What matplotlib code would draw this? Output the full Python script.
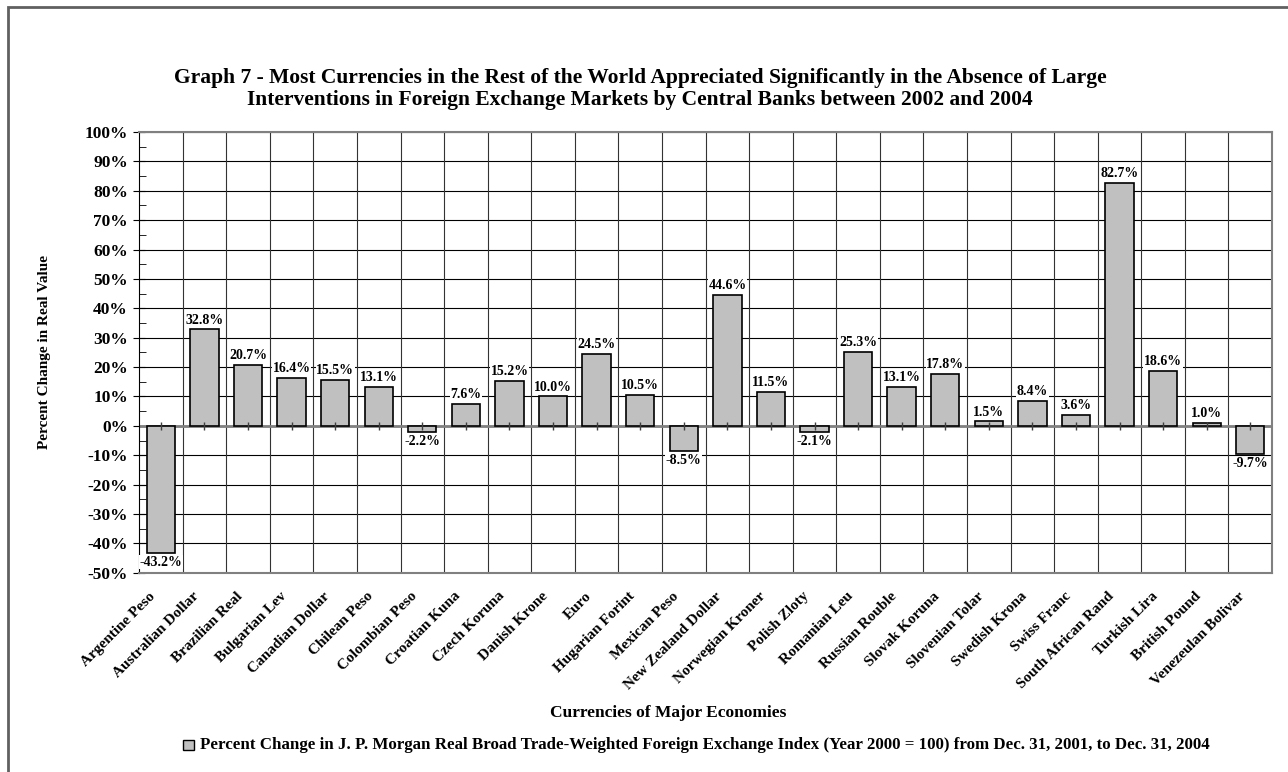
import numpy as np
import matplotlib.pyplot as plt
import matplotlib.transforms as mtransforms
from matplotlib.patches import Rectangle

# Currencies and percent change in real value
currencies = ['Argentine Peso', 'Australian Dollar', 'Brazilian Real', 'Bulgarian Lev',
              'Canadian Dollar', 'Chilean Peso', 'Colombian Peso', 'Croatian Kuna',
              'Czech Koruna', 'Danish Krone', 'Euro', 'Hugarian Forint', 'Mexican Peso',
              'New Zealand Dollar', 'Norwegian Kroner', 'Polish Zloty', 'Romanian Leu',
              'Russian Rouble', 'Slovak Koruna', 'Slovenian Tolar', 'Swedish Krona',
              'Swiss Franc', 'South African Rand', 'Turkish Lira', 'British Pound',
              'Venezeulan Bolivar']
pct_change = [-43.2, 32.8, 20.7, 16.4, 15.5, 13.1, -2.2, 7.6, 15.2, 10.0, 24.5, 10.5, -8.5,
              44.6, 11.5, -2.1, 25.3, 13.1, 17.8, 1.5, 8.4, 3.6, 82.7, 18.6, 1.0, -9.7]
y_ticks = np.arange(-50, 101, 10)

plt.rcParams['font.family'] = ['Liberation Serif', 'DejaVu Serif']
plt.rcParams['font.weight'] = 'bold'

fig = plt.figure(figsize=(12.88, 7.72), dpi=100)
ax = fig.add_axes([0.108, 0.258, 0.8796, 0.571])

x = np.arange(len(currencies))
ax.bar(x, pct_change, width=0.65, color='#c0c0c0', edgecolor='black', linewidth=1.2, zorder=3)

# value labels
for xi, v in zip(x, pct_change):
    txt = f'{v:.1f}%'
    if v >= 0:
        ax.text(xi, v + 1.0, txt, ha='center', va='bottom', fontsize=10, fontweight='bold',
                zorder=4, bbox=dict(facecolor='white', edgecolor='none', pad=0.5))
    else:
        ax.text(xi, v - 1.0, txt, ha='center', va='top', fontsize=10, fontweight='bold',
                zorder=4, bbox=dict(facecolor='white', edgecolor='none', pad=0.5))

ax.set_xlim(-0.5, len(currencies) - 0.5)
ax.set_ylim(-50, 100)
ax.set_yticks(y_ticks)
ax.set_yticklabels([f'{t}%' for t in y_ticks], fontsize=12.5, fontweight='bold')
ax.set_yticks(np.arange(-45, 100, 10), minor=True)
ax.tick_params(axis='y', which='major', direction='inout', length=8, pad=4)
ax.tick_params(axis='y', which='minor', direction='in', length=5)

# horizontal grid
for t in y_ticks:
    ax.axhline(t, color='black', linewidth=0.8, zorder=1)
# vertical grid at category boundaries
for b in np.arange(0.5, len(currencies) - 0.5, 1):
    ax.axvline(b, color='#333333', linewidth=0.8, zorder=1)

# zero line with small category ticks
ax.axhline(0, color='#808080', linewidth=2, zorder=2)
ax.plot(x, np.zeros(len(x)), linestyle='none', marker='|', markersize=6,
        color='#404040', zorder=3.5)

ax.set_xticks(x)
ax.set_xticklabels(currencies, rotation=45, ha='right', rotation_mode='anchor',
                   fontsize=11, fontweight='bold')
ax.tick_params(axis='x', length=0, pad=12)
shift = mtransforms.ScaledTranslation(-0.12, 0, fig.dpi_scale_trans)
for lbl in ax.get_xticklabels():
    lbl.set_transform(lbl.get_transform() + shift)

for side in ['top', 'right', 'bottom']:
    ax.spines[side].set_color('#808080')
    ax.spines[side].set_linewidth(1.5)
ax.spines['left'].set_color('black')

ax.set_ylabel('Percent Change in Real Value', fontsize=11, fontweight='bold')
ax.yaxis.set_label_coords(-0.078, 0.5)

fig.text(0.497, 0.885, 'Graph 7 - Most Currencies in the Rest of the World Appreciated Significantly in the Absence of Large\n'
         'Interventions in Foreign Exchange Markets by Central Banks between 2002 and 2004',
         ha='center', va='center', fontsize=15.5, fontweight='bold', linespacing=1.15)
fig.text(0.519, 0.077, 'Currencies of Major Economies', ha='center', va='center',
         fontsize=12.5, fontweight='bold')

# legend
fig.patches.append(Rectangle((0.142, 0.028), 0.0085, 0.014, transform=fig.transFigure,
                             facecolor='#c0c0c0', edgecolor='black', linewidth=1))
fig.text(0.155, 0.035, 'Percent Change in J. P. Morgan Real Broad Trade-Weighted Foreign Exchange Index '
         '(Year 2000 = 100) from Dec. 31, 2001, to Dec. 31, 2004',
         ha='left', va='center', fontsize=12.2, fontweight='bold')

# outer frame
fig.patches.append(Rectangle((0.0065, -0.05), 1.05, 1.041, transform=fig.transFigure,
                             fill=False, edgecolor='#606060', linewidth=2))

fig.savefig('out.png', dpi=100, facecolor='white')
